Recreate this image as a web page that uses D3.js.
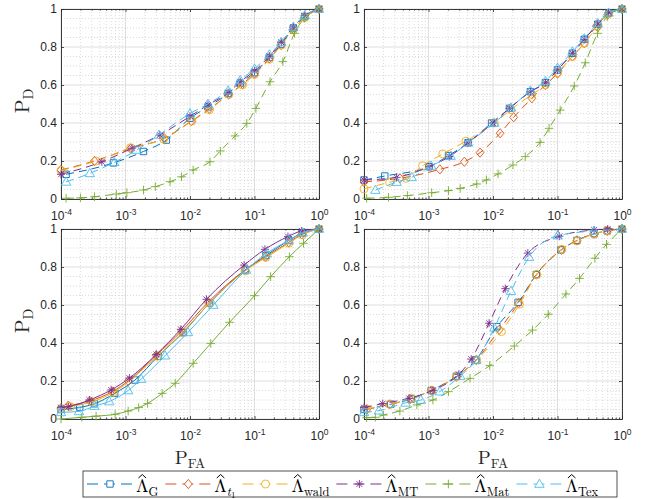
<!DOCTYPE html>
<html><head><meta charset="utf-8">
<script src="https://cdn.jsdelivr.net/npm/d3@7"></script>
<style>body{margin:0;background:#fff}svg{display:block}</style>
</head><body><svg id="c" width="660" height="499"></svg>
<script>
// ---------- data ----------
const seriesKeys = ["G","t1","wald","MT","Mat","Tex"];
const seriesColors = ["#0072BD","#D95319","#EDB120","#7E2F8E","#77AC30","#4DBEEE"];
const seriesMarkers = ["square","diamond","circle","star","plus","triangle"];
const xTickValues = [1e-4,1e-3,1e-2,1e-1,1];
const xTickExponents = ["-4","-3","-2","-1","0"];
const yTickValues = [0,0.2,0.4,0.6,0.8,1];
const yTickLabels = ["0","0.2","0.4","0.6","0.8","1"];

// top-left panel  [PFA, PD]
const tl_G = [[1.2e-4,0.13],[6.5e-4,0.19],[1.9e-3,0.25],[4.3e-3,0.31],[1e-2,0.425],[0.019,0.485],[0.039,0.555],[0.06,0.61],[0.1,0.665],[0.17,0.745],[0.26,0.815],[0.4,0.9],[0.6,0.96],[1,1]];
const tl_t1 = [[1e-4,0.153],[3.3e-4,0.2],[1.2e-3,0.265],[4e-3,0.32],[1.05e-2,0.41],[0.02,0.475],[0.04,0.55],[0.065,0.605],[0.1,0.66],[0.17,0.74],[0.26,0.81],[0.4,0.895],[0.6,0.955],[1,1]];
const tl_wald = [[1e-4,0.15],[3.5e-4,0.2],[1.2e-3,0.27],[3.9e-3,0.315],[1.07e-2,0.41],[0.02,0.47],[0.04,0.55],[0.065,0.6],[0.1,0.655],[0.17,0.735],[0.26,0.81],[0.4,0.89],[0.6,0.955],[1,1]];
const tl_MT = [[1e-4,0.13],[4.3e-4,0.196],[1.26e-3,0.267],[3.4e-3,0.337],[1e-2,0.435],[0.019,0.495],[0.039,0.56],[0.06,0.617],[0.1,0.674],[0.17,0.752],[0.26,0.825],[0.4,0.905],[0.6,0.965],[1,1]];
const tl_Mat = [[1.2e-4,0.004],[2e-4,0.006],[3.3e-4,0.012],[7.2e-4,0.026],[1.05e-3,0.033],[1.9e-3,0.047],[2.9e-3,0.065],[4.9e-3,0.091],[7.4e-3,0.117],[0.0112,0.153],[0.0204,0.196],[0.0295,0.253],[0.05,0.332],[0.076,0.398],[0.105,0.477],[0.174,0.617],[0.275,0.723],[0.417,0.872],[0.589,0.951],[1,1]];
const tl_Tex = [[1.2e-4,0.09],[2.8e-4,0.135],[6.7e-4,0.193],[1.5e-3,0.258],[3.3e-3,0.337],[1e-2,0.45],[0.019,0.5],[0.039,0.57],[0.06,0.625],[0.1,0.685],[0.17,0.76],[0.26,0.825],[0.4,0.905],[0.6,0.965],[1,1]];

// top-right panel
const tr_G = [[1e-4,0.10],[2.1e-4,0.121],[1.02e-3,0.17],[2.04e-3,0.228],[4.1e-3,0.296],[9.5e-3,0.40],[0.018,0.477],[0.038,0.565],[0.065,0.612],[0.1,0.679],[0.17,0.767],[0.26,0.84],[0.42,0.92],[0.62,0.98],[1,1]];
const tr_t1 = [[1e-4,0.09],[3.6e-4,0.109],[1.5e-3,0.156],[3.6e-3,0.196],[6.3e-3,0.244],[0.0129,0.346],[0.0209,0.43],[0.04,0.53],[0.065,0.6],[0.1,0.66],[0.17,0.75],[0.26,0.82],[0.4,0.91],[0.6,0.97],[1,1]];
const tr_wald = [[1e-4,0.053],[2.5e-4,0.088],[4.5e-4,0.109],[8.1e-4,0.175],[1.66e-3,0.237],[3.8e-3,0.304],[0.0105,0.40],[0.019,0.47],[0.04,0.55],[0.065,0.6],[0.1,0.665],[0.17,0.75],[0.26,0.82],[0.42,0.91],[0.62,0.975],[1,1]];
const tr_MT = [[1e-4,0.10],[3.2e-4,0.114],[1.02e-3,0.17],[2.1e-3,0.223],[4.1e-3,0.296],[0.01,0.40],[0.018,0.477],[0.038,0.565],[0.065,0.612],[0.1,0.679],[0.17,0.767],[0.26,0.84],[0.42,0.92],[0.62,0.98],[1,1]];
const tr_Mat = [[1.1e-4,0.004],[2.4e-4,0.009],[4.7e-4,0.018],[1.12e-3,0.033],[2.04e-3,0.044],[3.1e-3,0.056],[5.6e-3,0.079],[7.9e-3,0.10],[0.012,0.132],[0.0204,0.179],[0.0316,0.223],[0.0537,0.298],[0.074,0.372],[0.11,0.468],[0.182,0.595],[0.269,0.717],[0.417,0.872],[0.589,0.96],[1,1]];
const tr_Tex = [[1.5e-4,0.047],[3.2e-4,0.089],[5.5e-4,0.114],[1.1e-3,0.174],[2.2e-3,0.226],[4.1e-3,0.296],[0.0105,0.40],[0.019,0.48],[0.038,0.57],[0.065,0.62],[0.1,0.69],[0.17,0.775],[0.26,0.845],[0.42,0.925],[0.62,0.98],[1,1]];

// bottom-left panel
const bl_G = [[1e-4,0.05],[1.95e-4,0.061],[3.3e-4,0.08],[6.8e-4,0.135],[1.4e-3,0.205],[3.2e-3,0.33],[7.8e-3,0.455],[0.02,0.61],[0.072,0.785],[0.15,0.86],[0.34,0.94],[0.55,0.98],[1,1]];
const bl_t1 = [[1.3e-4,0.07],[2.8e-4,0.095],[6.3e-4,0.145],[1.1e-3,0.2],[3e-3,0.335],[7.4e-3,0.463],[0.019,0.614],[0.071,0.784],[0.148,0.854],[0.34,0.93],[0.54,0.972],[1,1]];
const bl_wald = [[1e-4,0.055],[1.4e-4,0.065],[3e-4,0.09],[6.5e-4,0.14],[3.1e-3,0.33],[7.6e-3,0.455],[0.02,0.61],[0.072,0.78],[0.15,0.85],[0.34,0.925],[0.55,0.97],[1,1]];
const bl_MT = [[1e-4,0.06],[1.3e-4,0.065],[2.75e-4,0.10],[6e-4,0.153],[1.15e-3,0.215],[3e-3,0.34],[7.2e-3,0.472],[0.018,0.63],[0.069,0.81],[0.145,0.893],[0.33,0.96],[0.54,0.99],[1,1]];
const bl_Mat = [[1e-4,0.0],[2.1e-4,0.009],[3.5e-4,0.015],[6.9e-4,0.025],[1.1e-3,0.042],[1.6e-3,0.06],[2.2e-3,0.082],[3.7e-3,0.135],[5.9e-3,0.188],[0.0112,0.293],[0.021,0.398],[0.041,0.509],[0.1,0.649],[0.178,0.749],[0.347,0.854],[0.575,0.925],[1,1]];
const bl_Tex = [[1e-4,0.035],[1.9e-4,0.04],[3.3e-4,0.068],[5.6e-4,0.092],[1.1e-3,0.15],[1.75e-3,0.21],[4.1e-3,0.333],[9.3e-3,0.456],[0.023,0.6],[0.074,0.784],[0.155,0.872],[0.34,0.94],[0.56,0.98],[1,1]];

// bottom-right panel
const br_G = [[1e-4,0.05],[2.6e-4,0.078],[5.4e-4,0.105],[1.1e-3,0.15],[2.7e-3,0.225],[5.4e-3,0.31],[0.0115,0.486],[0.0245,0.614],[0.047,0.76],[0.113,0.89],[0.2,0.94],[0.37,0.975],[0.59,0.99],[1,1]];
const br_t1 = [[1.1e-4,0.05],[2.5e-4,0.077],[5.2e-4,0.105],[1.1e-3,0.15],[2.7e-3,0.222],[5.5e-3,0.31],[0.0125,0.47],[0.025,0.61],[0.047,0.76],[0.115,0.89],[0.2,0.94],[0.37,0.975],[0.59,0.99],[1,1]];
const br_wald = [[1.1e-4,0.053],[2.5e-4,0.077],[5.5e-4,0.109],[1.12e-3,0.149],[2.75e-3,0.223],[5.6e-3,0.311],[0.0135,0.46],[0.0257,0.604],[0.0479,0.761],[0.117,0.893],[0.2,0.937],[0.37,0.974],[0.59,0.991],[1,1]];
const br_MT = [[1e-4,0.06],[1.95e-4,0.081],[5e-4,0.109],[1.17e-3,0.151],[2.95e-3,0.235],[4.6e-3,0.315],[8.7e-3,0.504],[0.0155,0.686],[0.0347,0.873],[0.107,0.962],[0.37,0.995],[0.6,1],[1,1]];
const br_Mat = [[1.1e-4,0.007],[1.5e-4,0.009],[2e-4,0.021],[3.6e-4,0.042],[6.6e-4,0.074],[1.17e-3,0.10],[2.04e-3,0.144],[4.4e-3,0.214],[8.9e-3,0.281],[0.0214,0.384],[0.041,0.468],[0.072,0.551],[0.135,0.658],[0.219,0.74],[0.38,0.846],[0.575,0.919],[1,1]];
const br_Tex = [[1e-4,0.035],[1.7e-4,0.044],[4.4e-4,0.085],[7.6e-4,0.10],[1.5e-3,0.144],[3.1e-3,0.226],[5.5e-3,0.309],[0.0105,0.48],[0.019,0.673],[0.0363,0.852],[0.1,0.965],[0.37,0.99],[1,1]];

// ---------- layout ----------
const svg = d3.select("#c");
const AX = "#262626";
const serif = "'Latin Modern Roman','Liberation Serif','DejaVu Serif',serif";
const sans = "'Liberation Sans',Arial,Helvetica,sans-serif";

const panels = [
  {x0:61, x1:319, y0:9,  y1:199, dash:true,  data:[tl_G,tl_t1,tl_wald,tl_MT,tl_Mat,tl_Tex], ylab:true,  xlab:false},
  {x0:364,x1:622, y0:9,  y1:199, dash:true,  data:[tr_G,tr_t1,tr_wald,tr_MT,tr_Mat,tr_Tex], ylab:false, xlab:false},
  {x0:61, x1:319, y0:229,y1:419, dash:false, data:[bl_G,bl_t1,bl_wald,bl_MT,bl_Mat,bl_Tex], ylab:true,  xlab:true},
  {x0:364,x1:622, y0:229,y1:419, dash:true,  data:[br_G,br_t1,br_wald,br_MT,br_Mat,br_Tex], ylab:false, xlab:true}
];

function markerPath(type){
  switch(type){
    case "square":  return "M-3.2,-3.2H3.2V3.2H-3.2Z";
    case "diamond": return "M0,-4.6L3.9,0L0,4.6L-3.9,0Z";
    case "circle":  return "M4,0A4,4 0 1,1 -4,0A4,4 0 1,1 4,0Z";
    case "star":    return "M0,-4V4M-4,0H4M-2.9,-2.9L2.9,2.9M-2.9,2.9L2.9,-2.9";
    case "plus":    return "M0,-4.3V4.3M-4.3,0H4.3";
    case "triangle":return "M0,-4.9L4.7,3.3L-4.7,3.3Z";
  }
}
const DASH = "8,5";

const minorX = [];
for (let e=-4;e<0;e++) for (let m=2;m<=9;m++) minorX.push(m*Math.pow(10,e));
const minorY = d3.range(1,20).map(i=>i*0.05).filter((v,i)=>(i+1)%4!==0);

panels.forEach(p=>{
  const x = d3.scaleLog().domain([1e-4,1]).range([p.x0,p.x1]);
  const y = d3.scaleLinear().domain([0,1]).range([p.y1,p.y0]);
  const g = svg.append("g");

  // minor grid (dotted)
  const gm = g.append("g").attr("stroke","#c4c4c4").attr("stroke-width",0.6).attr("stroke-dasharray","1,2");
  gm.selectAll(".mx").data(minorX).join("line")
    .attr("x1",d=>x(d)).attr("x2",d=>x(d)).attr("y1",p.y0).attr("y2",p.y1);
  gm.selectAll(".my").data(minorY).join("line")
    .attr("x1",p.x0).attr("x2",p.x1).attr("y1",d=>y(d)).attr("y2",d=>y(d));
  // major grid
  const gM = g.append("g").attr("stroke","#dedede").attr("stroke-width",1);
  gM.selectAll(".Mx").data(xTickValues).join("line")
    .attr("x1",d=>x(d)).attr("x2",d=>x(d)).attr("y1",p.y0).attr("y2",p.y1);
  gM.selectAll(".My").data(yTickValues).join("line")
    .attr("x1",p.x0).attr("x2",p.x1).attr("y1",d=>y(d)).attr("y2",d=>y(d));

  // axes
  const axB = d3.axisBottom(x).tickValues(xTickValues).tickSize(-3).tickSizeOuter(0).tickPadding(12.5).tickFormat(()=> "");
  const axT = d3.axisTop(x).tickValues(xTickValues).tickSize(-3).tickSizeOuter(0).tickFormat(()=> "");
  const axL = d3.axisLeft(y).tickValues(yTickValues).tickSize(-3).tickSizeOuter(0).tickPadding(4).tickFormat((d,i)=>yTickLabels[i]);
  const axR = d3.axisRight(y).tickValues(yTickValues).tickSize(-3).tickSizeOuter(0).tickFormat(()=> "");
  const mB = d3.axisBottom(x).tickValues(minorX).tickSize(-1.6).tickSizeOuter(0).tickFormat(()=> "");
  const mT = d3.axisTop(x).tickValues(minorX).tickSize(-1.6).tickSizeOuter(0).tickFormat(()=> "");

  const gaB = g.append("g").attr("transform",`translate(0,${p.y1})`).call(axB);
  g.append("g").attr("transform",`translate(0,${p.y0})`).call(axT);
  const gaL = g.append("g").attr("transform",`translate(${p.x0},0)`).call(axL);
  g.append("g").attr("transform",`translate(${p.x1},0)`).call(axR);
  g.append("g").attr("transform",`translate(0,${p.y1})`).call(mB).select(".domain").remove();
  g.append("g").attr("transform",`translate(0,${p.y0})`).call(mT).select(".domain").remove();
  g.selectAll(".domain").attr("stroke",AX).attr("stroke-width",0.9);
  g.selectAll(".tick line").attr("stroke",AX).attr("stroke-width",0.8);

  gaL.selectAll(".tick text").attr("font-family",sans).attr("font-size",12).attr("fill",AX);
  gaB.selectAll(".tick text").each(function(d,i){
    const t = d3.select(this).text(null).attr("font-family",sans).attr("font-size",12).attr("fill",AX);
    t.append("tspan").text("10");
    t.append("tspan").attr("dy",-5).attr("font-size",8.5).text(xTickExponents[i]);
  });

  // series
  const line = d3.line().x(d=>x(d[0])).y(d=>y(d[1])).curve(d3.curveMonotoneX);
  p.data.forEach((ser,si)=>{
    const c = seriesColors[si];
    g.append("path").datum(ser).attr("d",line).attr("fill","none")
      .attr("stroke",c).attr("stroke-width",1)
      .attr("stroke-dasharray",p.dash?DASH:null);
    g.append("g").selectAll("path").data(ser).join("path")
      .attr("transform",d=>`translate(${x(d[0])},${y(d[1])})`)
      .attr("d",markerPath(seriesMarkers[si]))
      .attr("fill","none").attr("stroke",c).attr("stroke-width",0.9);
  });

  // axis labels
  if (p.ylab){
    const t = svg.append("text").attr("font-family",serif).attr("fill",AX)
      .attr("text-anchor","middle")
      .attr("transform",`translate(29,${(p.y0+p.y1)/2 - 3}) rotate(-90)`);
    t.append("tspan").attr("font-size",20).text("P");
    t.append("tspan").attr("font-size",14).attr("dy",4).text("D");
  }
  if (p.xlab){
    const t = svg.append("text").attr("font-family",serif).attr("fill",AX)
      .attr("text-anchor","middle")
      .attr("x",(p.x0+p.x1)/2).attr("y",p.y1+45);
    t.append("tspan").attr("font-size",19).text("P");
    t.append("tspan").attr("font-size",13.5).attr("dy",3.5).text("FA");
  }
});

// ---------- legend ----------
const legendLabels = [
  {sub:"G"},{sub:"t",sub2:"1"},{sub:"wald"},{sub:"MT"},{sub:"Mat"},{sub:"Tex"}
];
const lg = svg.append("g");
lg.append("rect").attr("x",83).attr("y",471).attr("width",534).attr("height",26)
  .attr("fill","#fff").attr("stroke",AX).attr("stroke-width",0.8);
let cx = 87;
const yMid = 484, base = 492;
legendLabels.forEach((lab,i)=>{
  const c = seriesColors[i];
  lg.append("line").attr("x1",cx).attr("x2",cx+46).attr("y1",yMid).attr("y2",yMid)
    .attr("stroke",c).attr("stroke-width",1).attr("stroke-dasharray","11,6");
  lg.append("path").attr("transform",`translate(${cx+23},${yMid})`).attr("d",markerPath(seriesMarkers[i]))
    .attr("fill","#fff").attr("stroke",c).attr("stroke-width",0.9);
  const tx = cx+49;
  const t = lg.append("text").attr("font-family",serif).attr("fill","#000").attr("x",tx).attr("y",base);
  const L = t.append("tspan").attr("font-size",18).text("\u039B");
  t.append("tspan").attr("font-size",12.5).attr("dy",3.5)
    .attr("font-style",lab.sub2?"italic":null).text(lab.sub);
  if (lab.sub2) t.append("tspan").attr("font-size",9).attr("dy",2).text(lab.sub2);
  const lw = L.node().getComputedTextLength();
  const hx = tx + lw/2;
  lg.append("path").attr("d",`M${hx-3.8},${base-14}L${hx},${base-17.5}L${hx+3.8},${base-14}`)
    .attr("fill","none").attr("stroke","#000").attr("stroke-width",1);
  const w = t.node().getComputedTextLength();
  cx = tx + w + 7;
});
</script>
</body></html>
